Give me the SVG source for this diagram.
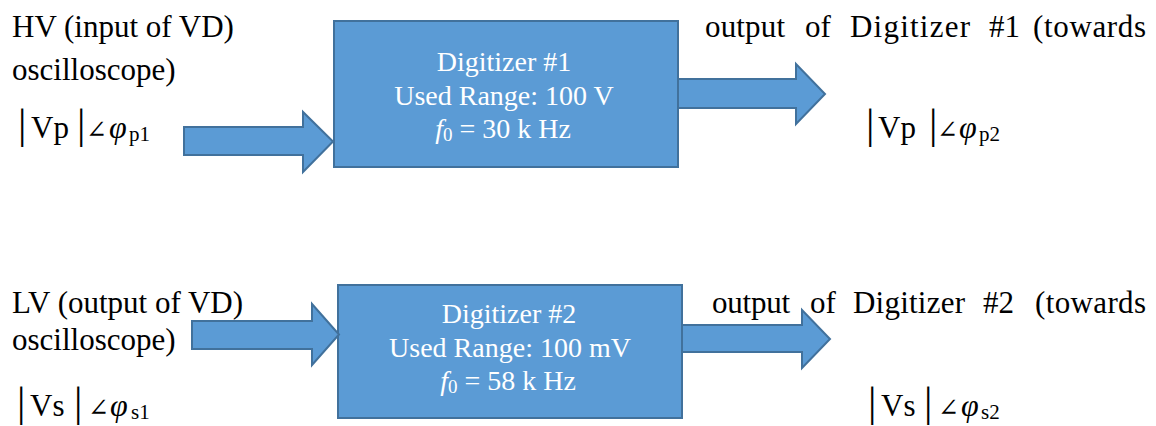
<svg xmlns="http://www.w3.org/2000/svg" width="1156" height="426" viewBox="0 0 1156 426">
<style>
.bg{fill:#ffffff}
.box{fill:#5b9bd5;stroke:#41719c;stroke-width:2}
.arrow{fill:#5b9bd5;stroke:#41719c;stroke-width:2;stroke-linejoin:miter}
.lbl{font-family:"Liberation Serif","Times New Roman",serif;font-size:31px;fill:#000}
.in{font-family:"Liberation Serif","Times New Roman",serif;font-size:28px;fill:#ffffff;text-anchor:middle}
.bar{font-family:"Liberation Serif","Times New Roman",serif;font-size:42px;fill:#000}
.m{font-family:"Liberation Serif","Times New Roman",serif;font-size:31px;fill:#000}
.ang{font-family:"DejaVu Serif","Liberation Serif",serif;font-size:25px;fill:#000}
.phi{font-family:"Liberation Serif","Times New Roman",serif;font-size:32px;font-style:italic;fill:#000}
.sub{font-family:"Liberation Serif","Times New Roman",serif;font-size:21px;fill:#000}
</style>
<rect class="bg" x="0" y="0" width="1156" height="426"/>

<g id="label-hv-in">
<text class="lbl" x="12" y="37">HV (input of VD)</text>
<text class="lbl" x="12" y="80">oscilloscope)</text>
<text class="bar" x="18" y="138">|</text>
<text class="m" x="31" y="138">Vp</text>
<text class="bar" x="77" y="138">|</text>
<text class="ang" x="86" y="138">∠</text>
<text class="phi" x="109" y="138">φ</text>
<text class="sub" x="129" y="141">p1</text>
</g>

<g id="label-hv-out">
<text class="lbl" x="705" y="37" textLength="80">output</text>
<text class="lbl" x="805" y="37">of</text>
<text class="lbl" x="850" y="37" textLength="120">Digitizer</text>
<text class="lbl" x="989" y="37">#1</text>
<text class="lbl" x="1033" y="37" textLength="113">(towards</text>
<text class="bar" x="866" y="138">|</text>
<text class="m" x="878" y="138">Vp</text>
<text class="bar" x="929" y="138">|</text>
<text class="ang" x="937" y="138">∠</text>
<text class="phi" x="959" y="138">φ</text>
<text class="sub" x="979" y="141">p2</text>
</g>

<g id="label-lv-in">
<text class="lbl" x="12" y="313">LV (output of VD)</text>
<text class="lbl" x="12" y="350">oscilloscope)</text>
<text class="bar" x="17" y="416">|</text>
<text class="m" x="30" y="416">Vs</text>
<text class="bar" x="74" y="416">|</text>
<text class="ang" x="88" y="416">∠</text>
<text class="phi" x="110" y="416">φ</text>
<text class="sub" x="131" y="419">s1</text>
</g>

<g id="label-lv-out">
<text class="lbl" x="712" y="313" textLength="78">output</text>
<text class="lbl" x="810" y="313">of</text>
<text class="lbl" x="853" y="313" textLength="112">Digitizer</text>
<text class="lbl" x="983" y="313">#2</text>
<text class="lbl" x="1035" y="313" textLength="111">(towards</text>
<text class="bar" x="868" y="416">|</text>
<text class="m" x="881" y="416">Vs</text>
<text class="bar" x="924" y="416">|</text>
<text class="ang" x="938" y="416">∠</text>
<text class="phi" x="961" y="416">φ</text>
<text class="sub" x="981" y="419">s2</text>
</g>

<g id="digitizer1">
<rect class="box" x="334" y="21" width="344" height="146"/>
<text class="in" x="504" y="71">Digitizer #1</text>
<text class="in" x="504" y="105">Used Range: 100 V</text>
<text class="in" x="503" y="138"><tspan font-style="italic">f</tspan><tspan font-size="19" dy="3">0</tspan><tspan dy="-3"> = 30 k Hz</tspan></text>
</g>

<g id="digitizer2">
<rect class="box" x="338" y="285" width="344" height="133"/>
<text class="in" x="509" y="323">Digitizer #2</text>
<text class="in" x="510" y="357">Used Range: 100 mV</text>
<text class="in" x="508" y="390"><tspan font-style="italic">f</tspan><tspan font-size="19" dy="3">0</tspan><tspan dy="-3"> = 58 k Hz</tspan></text>
</g>

<g id="connectors">
<path class="arrow" d="M184,127 H303 V112 L333,141.5 L303,172 V155 H184 Z"/>
<path class="arrow" d="M678,79 H796 V64 L825,94 L796,124 V108 H678 Z"/>
<path class="arrow" d="M192,321 H312 V304 L339,334.5 L312,365 V349 H192 Z"/>
<path class="arrow" d="M682,325 H802 V310 L830,339 L802,368 V352 H682 Z"/>
</g>
</svg>
